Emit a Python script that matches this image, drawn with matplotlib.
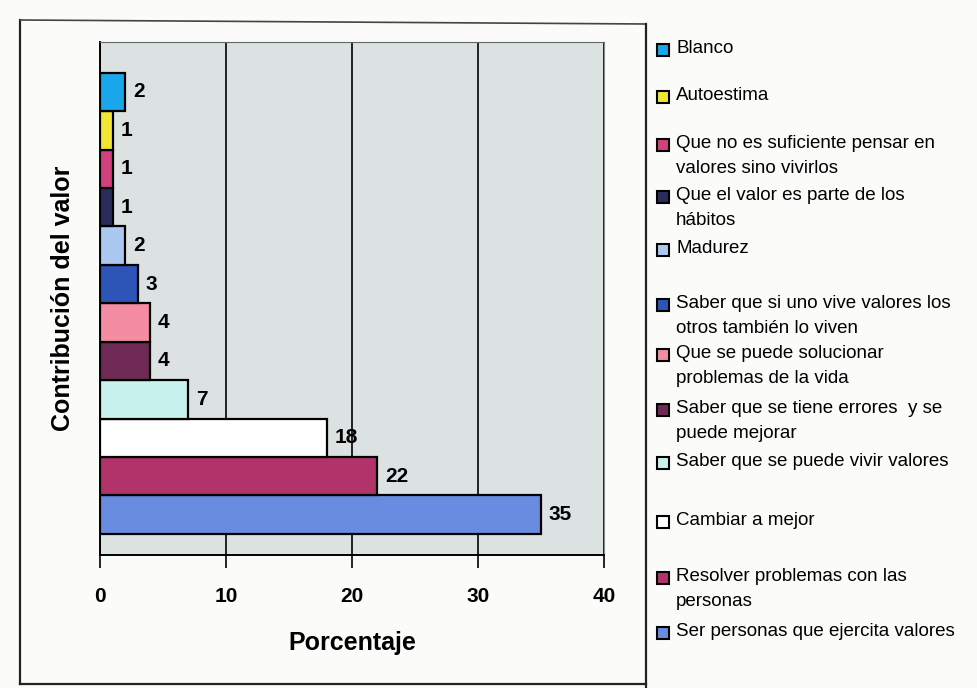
import matplotlib.pyplot as plt
from matplotlib.patches import Rectangle
from matplotlib.lines import Line2D
from matplotlib import font_manager

# categorias de abajo hacia arriba (orden de las barras)
categorias = [
    'Ser personas que ejercita valores',
    'Resolver problemas con las\npersonas',
    'Cambiar a mejor',
    'Saber que se puede vivir valores',
    'Saber que se tiene errores  y se\npuede mejorar',
    'Que se puede solucionar\nproblemas de la vida',
    'Saber que si uno vive valores los\notros también lo viven',
    'Madurez',
    'Que el valor es parte de los\nhábitos',
    'Que no es suficiente pensar en\nvalores sino vivirlos',
    'Autoestima',
    'Blanco',
]
porcentajes = [35, 22, 18, 7, 4, 4, 3, 2, 1, 1, 1, 2]
colores = ['#6a8ce0', '#b2336a', '#ffffff', '#c8f2ee', '#6e2a55', '#f48ca4',
           '#2d55b8', '#aac8f0', '#2a2c5c', '#d2407e', '#f2e634', '#1aa6ea']

# fuente angosta para la leyenda si existe
try:
    font_manager.findfont(font_manager.FontProperties(family='Liberation Sans Narrow'),
                          fallback_to_default=False)
    fuente_ley, tam_ley = 'Liberation Sans Narrow', 15
except Exception:
    fuente_ley, tam_ley = 'Liberation Sans', 13.5

W, H = 978, 688
fig = plt.figure(figsize=(W / 100, H / 100), dpi=100)
fig.patch.set_facecolor('#fbfbf9')

def fx(px):
    return px / W

def fy(py):
    return 1 - py / H

ax = fig.add_axes([fx(100), fy(555), fx(604) - fx(100), fy(42) - fy(555)])
ax.set_facecolor('#dce2e2')

pos = list(range(len(porcentajes)))
ax.barh(pos, porcentajes, height=1.0, color=colores, edgecolor='black', linewidth=1.6, zorder=3)

for y, v in zip(pos, porcentajes):
    ax.text(v + 0.6, y, str(v), va='center', ha='left', fontsize=15,
            fontweight='bold', family='Liberation Sans', zorder=4)

ax.set_xlim(0, 40)
ax.set_ylim(-1.05, 12.3)
ax.set_xticks([0, 10, 20, 30, 40])
ax.set_yticks([])
ax.xaxis.grid(True, color='black', linewidth=1.2, zorder=0)
ax.tick_params(axis='x', length=9, width=1.2, pad=14, labelsize=15)
for lab in ax.get_xticklabels():
    lab.set_fontweight('bold')
    lab.set_family('Liberation Sans')

ax.spines['left'].set_linewidth(1.4)
ax.spines['bottom'].set_linewidth(1.4)
ax.spines['top'].set_color('#666666')
ax.spines['right'].set_color('#888888')

ax.set_xlabel('Porcentaje', fontsize=18, fontweight='bold', family='Liberation Sans', labelpad=18)
fig.text(fx(63), fy(298), 'Contribución del valor', rotation=90, ha='center', va='center',
         fontsize=18, fontweight='bold', family='Liberation Sans')

# marco exterior del grafico y separacion de la leyenda
fig.add_artist(Line2D([fx(20), fx(20)], [fy(20), fy(684)], color='#222222', lw=1.6))
fig.add_artist(Line2D([fx(20), fx(646)], [fy(684), fy(684)], color='#222222', lw=1.6))
fig.add_artist(Line2D([fx(20), fx(646)], [fy(20), fy(24)], color='#444444', lw=1.2))
fig.add_artist(Line2D([fx(646), fx(646)], [fy(24), fy(688)], color='#222222', lw=1.6))

# leyenda manual (de arriba hacia abajo)
filas_y = [50, 97, 145, 197, 250, 305, 355, 410, 463, 522, 578, 633]
for yy, nombre, col in zip(filas_y, categorias[::-1], colores[::-1]):
    fig.add_artist(Rectangle((fx(657), fy(yy + 6)), fx(12), 12 / H, facecolor=col,
                             edgecolor='black', linewidth=1.5))
    fig.text(fx(676), fy(yy - 10), nombre, ha='left', va='top', fontsize=tam_ley,
             family=[fuente_ley, 'DejaVu Sans'], linespacing=1.65)

fig.savefig('out.png', dpi=100, facecolor=fig.get_facecolor())
